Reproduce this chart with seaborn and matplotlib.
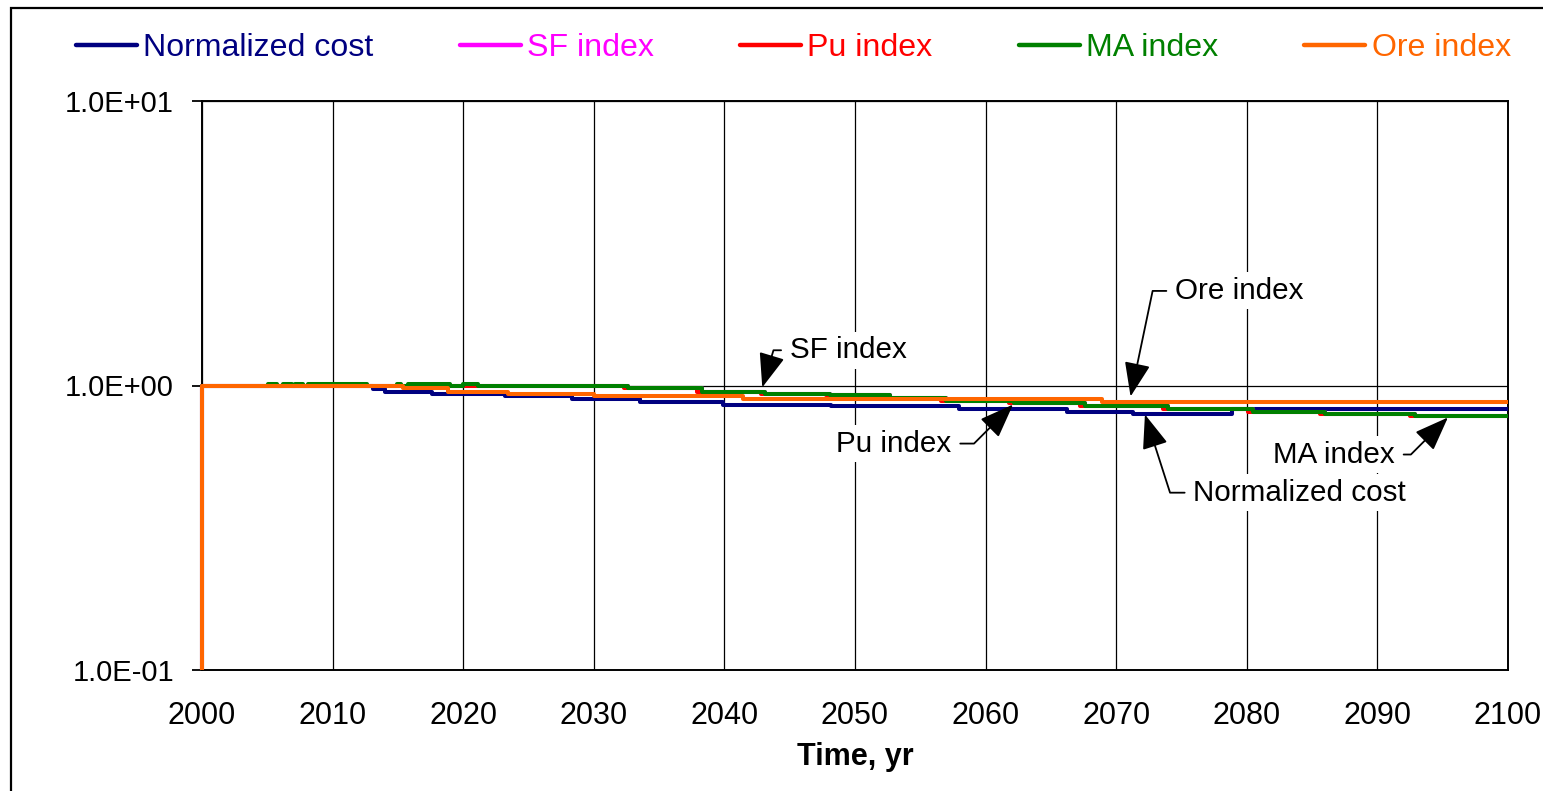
import matplotlib
matplotlib.use("Agg")
import matplotlib.pyplot as plt
import matplotlib.patches as mpatches
from matplotlib.lines import Line2D
import seaborn as sns
import pandas as pd

# ---------------- data ----------------
nc_years = [2000, 2000, 2013.1, 2014.0, 2017.6, 2023.2, 2028.3, 2033.5, 2039.9,
            2048.2, 2058.0, 2066.2, 2071.3, 2078.9, 2100]
nc_vals = [0.1, 1.0, 0.974, 0.945, 0.930, 0.915, 0.900, 0.878, 0.857,
           0.844, 0.828, 0.810, 0.791, 0.830, 0.830]

sf_years = [2000, 2000, 2032.6, 2038.3, 2043.1, 2048.1, 2052.7, 2057.0, 2062.2,
            2067.6, 2074.0, 2080.5, 2086.0, 2092.9, 2100]
sf_vals = [0.1, 1.0, 0.978, 0.950, 0.937, 0.924, 0.905, 0.881, 0.867,
           0.850, 0.830, 0.805, 0.791, 0.780, 0.780]

pu_years = [2000, 2000, 2032.3, 2037.9, 2042.8, 2047.8, 2052.4, 2056.6, 2061.8,
            2067.2, 2073.6, 2080.1, 2085.6, 2092.5, 2100]
pu_vals = [0.1, 1.0, 0.978, 0.950, 0.937, 0.924, 0.905, 0.881, 0.867,
           0.850, 0.830, 0.805, 0.791, 0.780, 0.780]

ma_years = [2000, 2000, 2005.05, 2005.75, 2006.2, 2006.9, 2007.1, 2007.7, 2008.1,
            2012.6, 2014.9, 2015.2, 2015.8, 2019.0, 2020.0, 2021.1, 2032.6, 2038.3,
            2043.1, 2048.1, 2052.7, 2057.0, 2062.2, 2067.6, 2074.0, 2080.5, 2086.0,
            2092.9, 2100]
ma_vals = [0.1, 1.0, 1.010, 1.0, 1.010, 1.0, 1.010, 1.0, 1.010,
           1.0, 1.010, 1.0, 1.010, 1.0, 1.010, 1.0, 0.978, 0.950,
           0.937, 0.924, 0.905, 0.881, 0.867, 0.850, 0.830, 0.805, 0.791,
           0.780, 0.780]

ore_years = [2000, 2000, 2015.4, 2018.8, 2023.4, 2030.0, 2041.4, 2068.9, 2100]
ore_vals = [0.1, 1.0, 0.978, 0.947, 0.932, 0.917, 0.900, 0.874, 0.874]

series_names = ["Normalized cost", "SF index", "Pu index", "MA index", "Ore index"]
series_colors = ["#000080", "#FF00FF", "#FF0000", "#008000", "#FF6600"]
x_ticks = list(range(2000, 2101, 10))
y_ticks = [0.1, 1.0, 10.0]
y_ticklabels = ["1.0E-01", "1.0E+00", "1.0E+01"]

# annotations: (label, tip_x, tip_y, text_x, text_y, ha, angleB)
annotations = [
    ("SF index", 2042.9, 0.985, 2045.0, 1.33, "left", 73.2),
    ("Pu index", 2062.1, 0.857, 2057.4, 0.625, "right", 45.0),
    ("Ore index", 2071.1, 0.915, 2074.5, 2.15, "left", 78.2),
    ("Normalized cost", 2072.2, 0.791, 2075.9, 0.420, "left", 107.8),
    ("MA index", 2095.4, 0.772, 2091.35, 0.572, "right", 45.0),
]

# ---------------- build frame ----------------
all_years = [nc_years, sf_years, pu_years, ma_years, ore_years]
all_vals = [nc_vals, sf_vals, pu_vals, ma_vals, ore_vals]
frames = []
for name, yrs, vals in zip(series_names, all_years, all_vals):
    frames.append(pd.DataFrame({"year": yrs, "value": vals, "series": name}))
df = pd.concat(frames, ignore_index=True)

sns.set_theme(style="white")
plt.rcParams["font.family"] = ["Liberation Sans", "DejaVu Sans"]

fig = plt.figure(figsize=(15.43, 7.91), dpi=100)
ax = fig.add_axes([202 / 1543, 1 - 670 / 791, (1508 - 202) / 1543, (670 - 101) / 791])

sns.lineplot(data=df, x="year", y="value", hue="series", hue_order=series_names,
             palette=series_colors, estimator=None, sort=False, legend=False,
             drawstyle="steps-post", linewidth=2.9, ax=ax, zorder=3)
for ln in ax.get_lines():
    ln.set_clip_on(False)
    ln.set_solid_capstyle("butt")

ax.set_yscale("log")
ax.set_xlim(2000, 2100)
ax.set_ylim(0.1, 10)
ax.set_xticks(x_ticks)
ax.set_xticklabels([str(t) for t in x_ticks])
ax.set_yticks(y_ticks)
ax.set_yticklabels(y_ticklabels)
ax.yaxis.set_minor_locator(matplotlib.ticker.NullLocator())
ax.tick_params(axis="x", length=0, pad=22, labelsize=22, colors="black")
ax.tick_params(axis="y", length=7.2, width=1.3, direction="out", pad=13,
               labelsize=21, colors="black", left=True)
ax.grid(True, axis="both", which="major", color="black", linewidth=0.9)
ax.set_axisbelow(True)
for sp in ax.spines.values():
    sp.set_visible(True)
    sp.set_color("black")
    sp.set_linewidth(1.4)
    sp.set_zorder(2.5)
ax.set_ylabel("")
ax.set_xlabel("Time, yr", fontsize=22, fontweight="bold", labelpad=8, color="black")

for label, tx, ty, xx, xy, ha, angB in annotations:
    relpos = (0.0, 0.5) if ha == "left" else (1.0, 0.5)
    ax.annotate(label, xy=(tx, ty), xytext=(xx, xy), textcoords="data",
                ha=ha, va="center", fontsize=21.3, color="black", zorder=6,
                bbox=dict(boxstyle="square,pad=0.15", fc="white", ec="none"),
                arrowprops=dict(arrowstyle="-|>,head_length=1.0,head_width=0.38",
                                connectionstyle=f"angle,angleA=0,angleB={angB},rad=0",
                                color="black", lw=1.3, relpos=relpos,
                                shrinkA=3, shrinkB=0))

# legend
handles = [Line2D([0], [0], color=c, lw=3.2) for c in series_colors]
leg = fig.legend(handles, series_names, loc="center", ncol=5,
                 bbox_to_anchor=(793.5 / 1543, 1 - 48 / 791),
                 frameon=False, fontsize=23.1, handlelength=1.9,
                 handletextpad=0.2, columnspacing=2.68, borderaxespad=0)
for txt, c in zip(leg.get_texts(), series_colors):
    txt.set_color(c)

# outer frame
fig.patches.append(mpatches.Rectangle((11 / 1543, -0.1), 1.2, (1 - 8 / 791) + 0.1,
                                      transform=fig.transFigure, fill=False,
                                      edgecolor="black", linewidth=1.6))

fig.savefig("out.png", dpi=100)
